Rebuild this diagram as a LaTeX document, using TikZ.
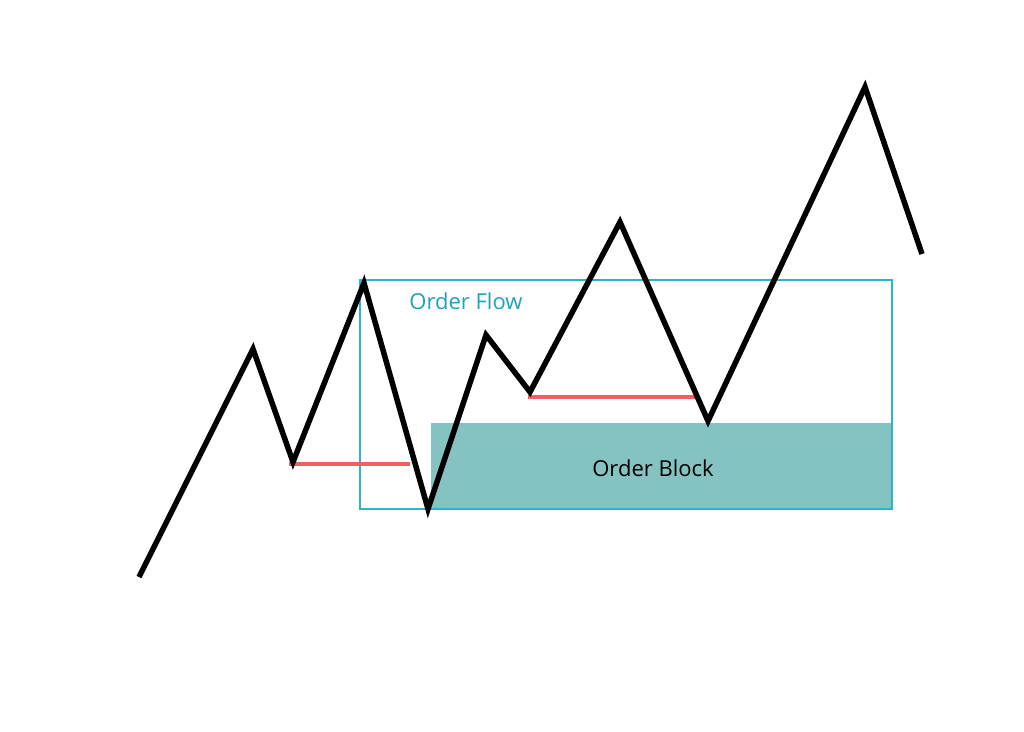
\documentclass[tikz,border=0pt]{standalone}
\usepackage{fontspec}
\setmainfont{Open Sans}
\definecolor{cyanb}{HTML}{2BB5CC}
\definecolor{tealf}{HTML}{84C3C2}
\definecolor{redl}{HTML}{F06060}
\definecolor{flowtxt}{HTML}{1FA2B8}
\begin{document}
\begin{tikzpicture}[x=1pt,y=-1pt,
  price/.style={line width=5.5pt,black,line join=miter},
  lvl/.style={line width=3.5pt,redl},
  lbl/.style={font=\fontsize{22}{26}\selectfont,inner sep=0}]
\useasboundingbox (0,0) rectangle (1024,731);
\fill[tealf] (431,423) rectangle (892,509);
\node[lbl] (ob) at (653,468) {Order Block};
\draw[cyanb,line width=2pt] (360,280) rectangle (892,509);
\node[lbl,text=flowtxt] (of) at (466,301) {Order Flow};
\draw[lvl] (289,464) -- (410,464);
\draw[lvl] (528,397) -- (695,397);
\draw[price] (139,577) -- (253,349) -- (293,462) -- (364,283) -- (428,509) -- (486,335) -- (530,392) -- (620,222) -- (708,421) -- (865,87) -- (922,254);
\end{tikzpicture}
\end{document}
